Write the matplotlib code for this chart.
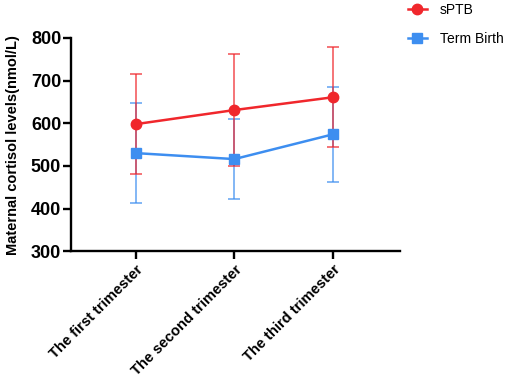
import numpy as np
from matplotlib import pyplot as plt
import matplotlib

matplotlib.rcParams.update({'font.family': ['Liberation Sans', 'DejaVu Sans']})

stages = ['The first trimester', 'The second trimester', 'The third trimester']
sptb_mean = [598, 631, 661]
sptb_sd = [117, 132, 117]
term_mean = [530, 516, 574]
term_sd = [117, 93, 112]

red = '#f0272c'
blue = '#3d8ef0'

fig = plt.figure(figsize=(5.1, 3.8), dpi=100)
ax = fig.add_axes([0.139, 0.339, 0.645, 0.561])
x = np.arange(len(stages))

ax.errorbar(x, term_mean, yerr=term_sd, fmt='none', ecolor=blue, alpha=0.75,
            elinewidth=1.2, capsize=4, capthick=1.2, zorder=2)
ax.errorbar(x, sptb_mean, yerr=sptb_sd, fmt='none', ecolor=red, alpha=0.75,
            elinewidth=1.2, capsize=4, capthick=1.2, zorder=2)
l1, = ax.plot(x, sptb_mean, '-o', color=red, lw=1.8, ms=7.5, zorder=4, label='sPTB')
l2, = ax.plot(x, term_mean, '-s', color=blue, lw=1.8, ms=7, zorder=3, label='Term Birth')

ax.set_xlim(-0.66, 2.68)
ax.set_ylim(300, 800)
ax.set_yticks([300, 400, 500, 600, 700, 800])
ax.set_xticks(x)
ax.set_xticklabels(stages, rotation=45, ha='right', rotation_mode='anchor',
                   fontsize=10.6, fontweight='bold')
for lab in ax.get_yticklabels():
    lab.set_fontweight('bold')
    lab.set_fontsize(13)
ax.set_ylabel('Maternal cortisol levels(nmol/L)', fontsize=10.5, fontweight='bold', labelpad=8)

for s in ['top', 'right']:
    ax.spines[s].set_visible(False)
for s in ['left', 'bottom']:
    ax.spines[s].set_linewidth(1.7)
ax.tick_params(width=1.7, length=6, pad=1)
ax.tick_params(axis='x', pad=2)

fig.legend(handles=[l1, l2], loc='upper left', bbox_to_anchor=(0.775, 1.025),
           frameon=False, fontsize=10, handlelength=1.4, handletextpad=0.9,
           labelspacing=1.1)

plt.savefig('out.png')
